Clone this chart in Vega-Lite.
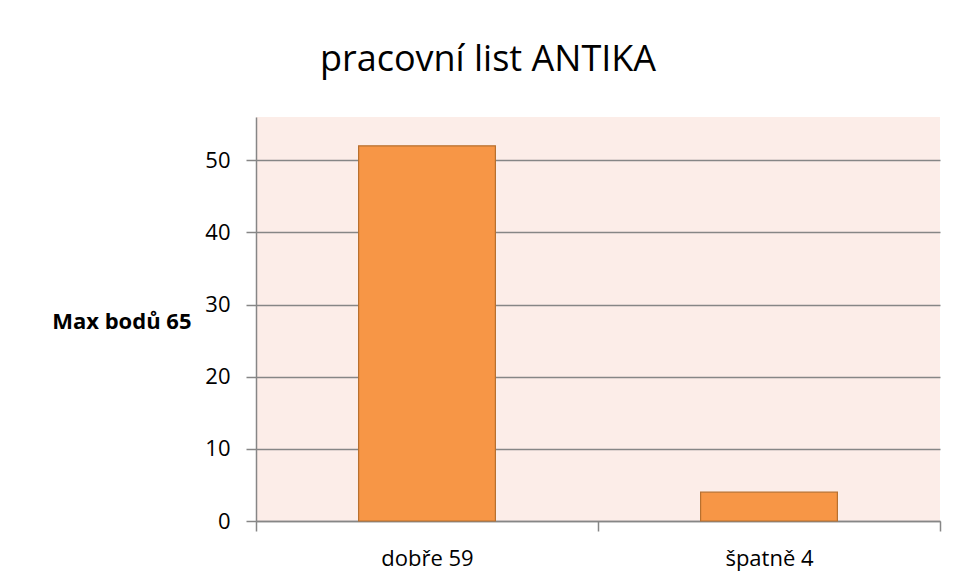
{
  "$schema": "https://vega.github.io/schema/vega-lite/v6.json",
  "autosize": {"type": "none"},
  "width": 684,
  "height": 404,
  "padding": {"left": 256, "top": 117, "right": 17, "bottom": 60},
  "background": "white",
  "title": {
    "text": "pracovní list ANTIKA",
    "anchor": "middle",
    "frame": "group",
    "dx": -110,
    "offset": 10,
    "baseline": "alphabetic",
    "font": "Open Sans",
    "fontSize": 36,
    "fontWeight": "normal",
    "color": "black"
  },
  "data": {
    "values": [
      {"kategorie": "dobře 59", "body": 52},
      {"kategorie": "špatně 4", "body": 4}
    ]
  },
  "mark": {"type": "bar", "fill": "#F79646", "stroke": "#B8702F", "strokeWidth": 1.2, "width": {"band": 0.4}},
  "encoding": {
    "x": {
      "field": "kategorie",
      "type": "nominal",
      "sort": null,
      "scale": {"paddingInner": 0, "paddingOuter": 0},
      "axis": {
        "title": null,
        "labelAngle": 0,
        "labelFont": "Open Sans",
        "labelFontSize": 22,
        "labelColor": "black",
        "labelPadding": 17,
        "tickBand": "extent",
        "tickSize": 10,
        "tickColor": "#868686",
        "domainColor": "#868686",
        "domainWidth": 1.5,
        "tickWidth": 1.5
      }
    },
    "y": {
      "field": "body",
      "type": "quantitative",
      "scale": {"domain": [0, 56], "nice": false},
      "axis": {
        "values": [0, 10, 20, 30, 40, 50],
        "title": "Max bodů 65",
        "titleAngle": 0,
        "titleAlign": "right",
        "titleBaseline": "alphabetic",
        "titleX": -65,
        "titleY": 211,
        "titleFont": "Open Sans",
        "titleFontSize": 22,
        "titleFontWeight": "bold",
        "titleColor": "black",
        "labelFont": "Open Sans",
        "labelFontSize": 22,
        "labelColor": "black",
        "labelPadding": 16,
        "tickSize": 10,
        "tickColor": "#868686",
        "tickWidth": 1.5,
        "domainColor": "#868686",
        "domainWidth": 1.5,
        "gridColor": "#868686",
        "gridWidth": 1.5
      }
    }
  },
  "config": {
    "view": {"fill": "#FCEDE8", "stroke": null}
  }
}
